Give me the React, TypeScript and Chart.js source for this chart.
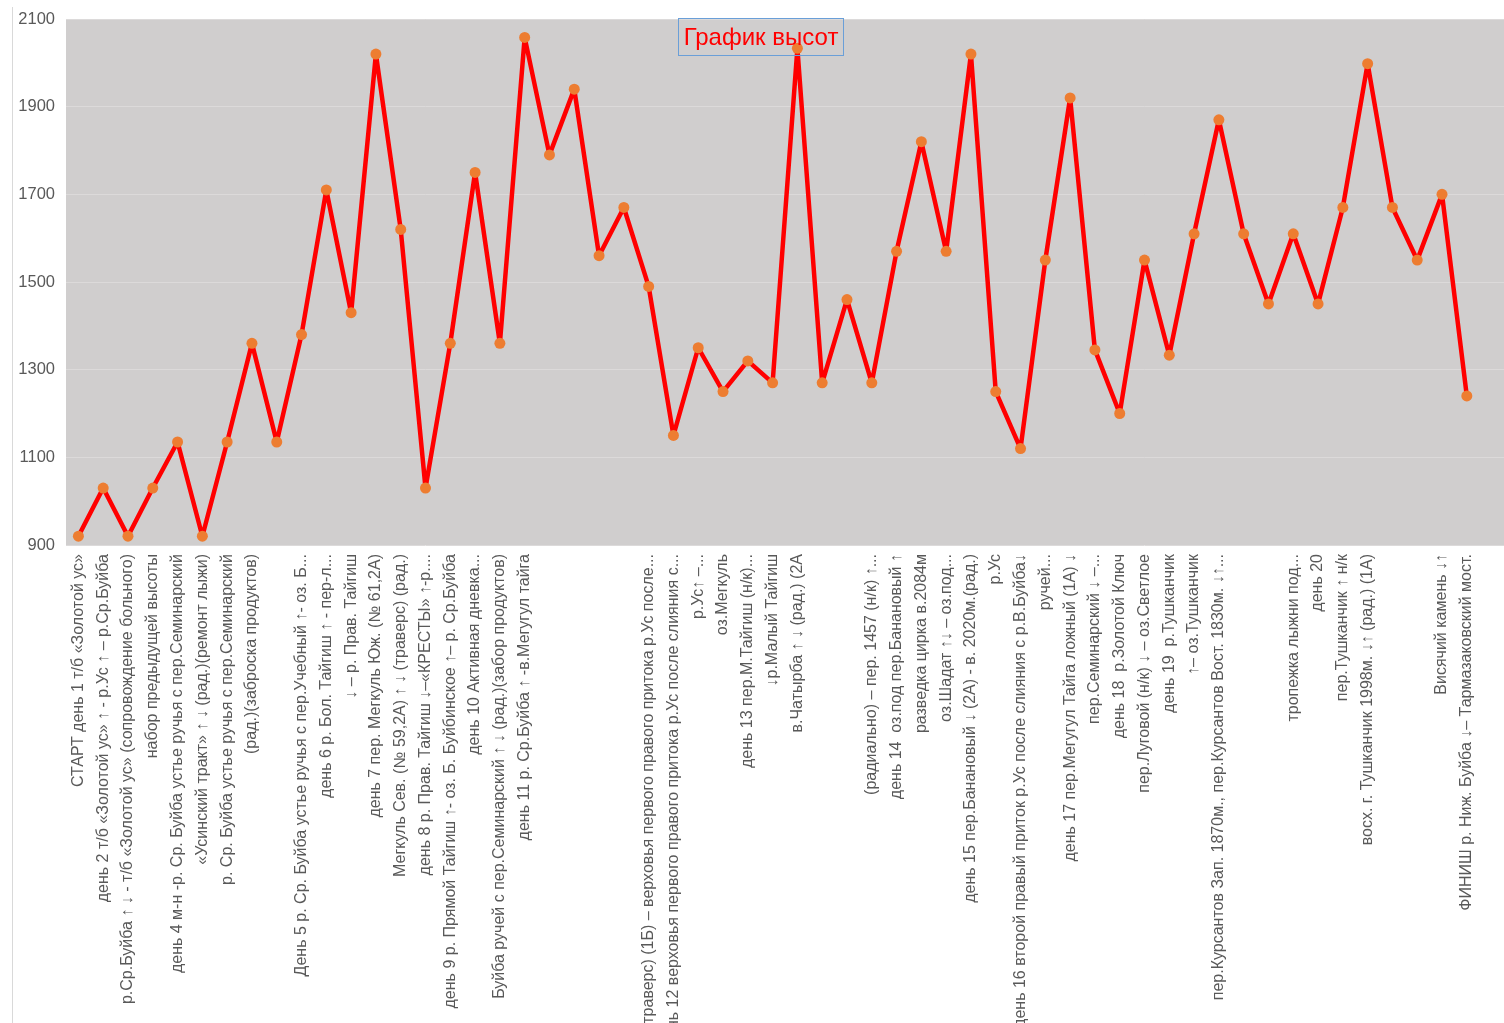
import React, { useEffect, useRef } from "react";
import { Chart, registerables } from "chart.js";

Chart.register(...registerables);

// ---- Data ----
const categories: string[] = [
  "СТАРТ день 1 т/б «Золотой ус»",
  "день 2 т/б «Золотой ус» ↑ - р.Ус ↑ – р.Ср.Буйба",
  "р.Ср.Буйба ↑ ↓ - т/б «Золотой ус» (сопровождение больного)",
  "набор предыдущей высоты",
  "день 4 м-н -р. Ср. Буйба устье ручья с пер.Семинарский",
  "«Усинский тракт» ↑ ↓ (рад.)(ремонт лыжи)",
  "р. Ср. Буйба устье ручья с пер.Семинарский",
  "(рад.)(заброска продуктов)",
  "",
  "День 5 р. Ср. Буйба устье ручья с пер.Учебный ↑- оз. Б...",
  "день 6 р. Бол. Тайгиш ↑ - пер-л...",
  "↓ – р. Прав. Тайгиш",
  "день 7 пер. Мегкуль Юж. (№ 61,2А)",
  "Мегкуль Сев. (№ 59,2А) ↑ ↓ (траверс) (рад.)",
  "день 8 р. Прав. Тайгиш ↓–«КРЕСТЫ» ↑-р....",
  "день 9 р. Прямой Тайгиш ↑- оз. Б. Буйбинское ↑– р. Ср.Буйба",
  "день 10 Активная дневка...",
  "Буйба ручей с пер.Семинарский ↑ ↓ (рад.)(забор продуктов)",
  "день 11 р. Ср.Буйба ↑ -в.Мегугул тайга",
  "",
  "",
  "",
  "",
  "(траверс) (1Б) – верховья первого правого притока р.Ус после...",
  "день 12 верховья первого правого притока р.Ус после слияния с...",
  "р.Ус↑ –...",
  "оз.Мегкуль",
  "день 13 пер.М.Тайгиш (н/к)...",
  "↓р.Малый Тайгиш",
  "в.Чатырба ↑ ↓ (рад.) (2А",
  "",
  "",
  "(радиально) – пер. 1457 (н/к) ↑...",
  "день 14  оз.под пер.Банановый ↑",
  "разведка цирка в.2084м",
  "оз.Шадат ↑↓ – оз.под...",
  "день 15 пер.Банановый ↓ (2А) - в. 2020м.(рад.)",
  "р.Ус",
  "день 16 второй правый приток р.Ус после слияния с р.В.Буйба↓",
  "ручей...",
  "день 17 пер.Мегугул Тайга ложный (1А) ↓",
  "пер.Семинарский ↓ –...",
  "день 18  р.Золотой Ключ",
  "пер.Луговой (н/к) ↓ – оз.Светлое",
  "день 19  р.Тушканчик",
  "↑– оз.Тушканчик",
  "пер.Курсантов Зап. 1870м., пер.Курсантов Вост. 1830м. ↓↑...",
  "",
  "",
  "тропежка лыжни под...",
  "день 20",
  "пер.Тушканчик ↑ н/к",
  "восх. г. Тушканчик 1998м. ↓↑ (рад.) (1А)",
  "",
  "",
  "Висячий камень ↓↑",
  "ФИНИШ р. Ниж. Буйба ↓– Тармазаковский мост.",
  "",
];

const elevations: number[] = [
  920, 1030, 920, 1030, 1135, 920, 1135, 1360, 1135, 1380,
  1710, 1430, 2020, 1620, 1030, 1360, 1750, 1360, 2058, 1790,
  1940, 1560, 1670, 1490, 1150, 1350, 1250, 1320, 1270, 2033,
  1270, 1460, 1270, 1570, 1820, 1570, 2020, 1250, 1120, 1550,
  1920, 1345, 1200, 1550, 1333, 1610, 1870, 1610, 1450, 1610,
  1450, 1670, 1998, 1670, 1550, 1700, 1240,
];

const yMin = 900;
const yMax = 2100;
const yStep = 200;
const chartTitle = "График высот";

// ---- Plot-area background plugin ----
const plotBackground = {
  id: "plotBackground",
  beforeDraw(chart: any) {
    const { ctx, chartArea } = chart;
    if (!chartArea) return;
    ctx.save();
    ctx.fillStyle = "#D0CECE";
    ctx.fillRect(chartArea.left, chartArea.top, chartArea.right - chartArea.left, chartArea.bottom - chartArea.top);
    ctx.restore();
  },
};

export default function App() {
  const canvasRef = useRef<HTMLCanvasElement | null>(null);

  useEffect(() => {
    document.body.style.margin = "0";
    document.body.style.overflow = "hidden";
    const canvas = canvasRef.current;
    if (!canvas) return;
    const chart = new Chart(canvas, {
      type: "line",
      data: {
        labels: categories,
        datasets: [
          {
            label: "Высота",
            data: elevations,
            borderColor: "#FF0000",
            borderWidth: 4.5,
            borderJoinStyle: "round",
            borderCapStyle: "round",
            tension: 0,
            pointRadius: 5.5,
            pointHoverRadius: 5.5,
            pointBackgroundColor: "#ED7D31",
            pointBorderColor: "#ED7D31",
            pointBorderWidth: 0,
            fill: false,
          },
        ],
      },
      options: {
        responsive: false,
        animation: false,
        devicePixelRatio: 1,
        layout: { autoPadding: false, padding: { top: 19, right: 0, bottom: 0, left: 0 } },
        plugins: {
          legend: { display: false },
          title: { display: false },
          tooltip: { enabled: false },
        },
        scales: {
          x: {
            type: "category",
            offset: true,
            grid: { display: false, drawTicks: false },
            border: { display: false },
            ticks: {
              autoSkip: false,
              minRotation: 90,
              maxRotation: 90,
              padding: 9,
              color: "#595959",
              font: { family: "'Liberation Sans', Arial, sans-serif", size: 16 },
            },
            afterFit: (scale: any) => {
              scale.height = 478;
              scale.paddingLeft = 0;
              scale.paddingRight = 0;
            },
          },
          y: {
            min: yMin,
            max: yMax,
            grid: { color: "#DCDADA", lineWidth: 1, drawTicks: false },
            border: { display: false },
            ticks: {
              stepSize: yStep,
              padding: 11,
              color: "#595959",
              font: { family: "'Liberation Sans', Arial, sans-serif", size: 16.5 },
              callback: (value: any) => String(value),
            },
            afterFit: (scale: any) => {
              scale.width = 66;
              scale.paddingTop = 0;
              scale.paddingBottom = 0;
            },
          },
        },
      },
      plugins: [plotBackground],
    });
    return () => chart.destroy();
  }, []);

  return (
    <div style={{ position: "relative", width: 1504, height: 1023, background: "#FFFFFF", overflow: "hidden" }}>
      <canvas ref={canvasRef} width={1504} height={1023} style={{ display: "block", width: 1504, height: 1023 }} />
      <div style={{ position: "absolute", left: 12, top: 7, width: 1, height: 1016, background: "#D9D9D9" }} />
      <div
        style={{
          position: "absolute",
          left: 678,
          top: 18,
          width: 164,
          height: 36,
          border: "1px solid #6A9FD8",
          color: "#FF0000",
          fontFamily: "'Liberation Sans', Arial, sans-serif",
          fontSize: 24,
          lineHeight: "36px",
          textAlign: "center",
          whiteSpace: "nowrap",
        }}
      >
        {chartTitle}
      </div>
    </div>
  );
}
